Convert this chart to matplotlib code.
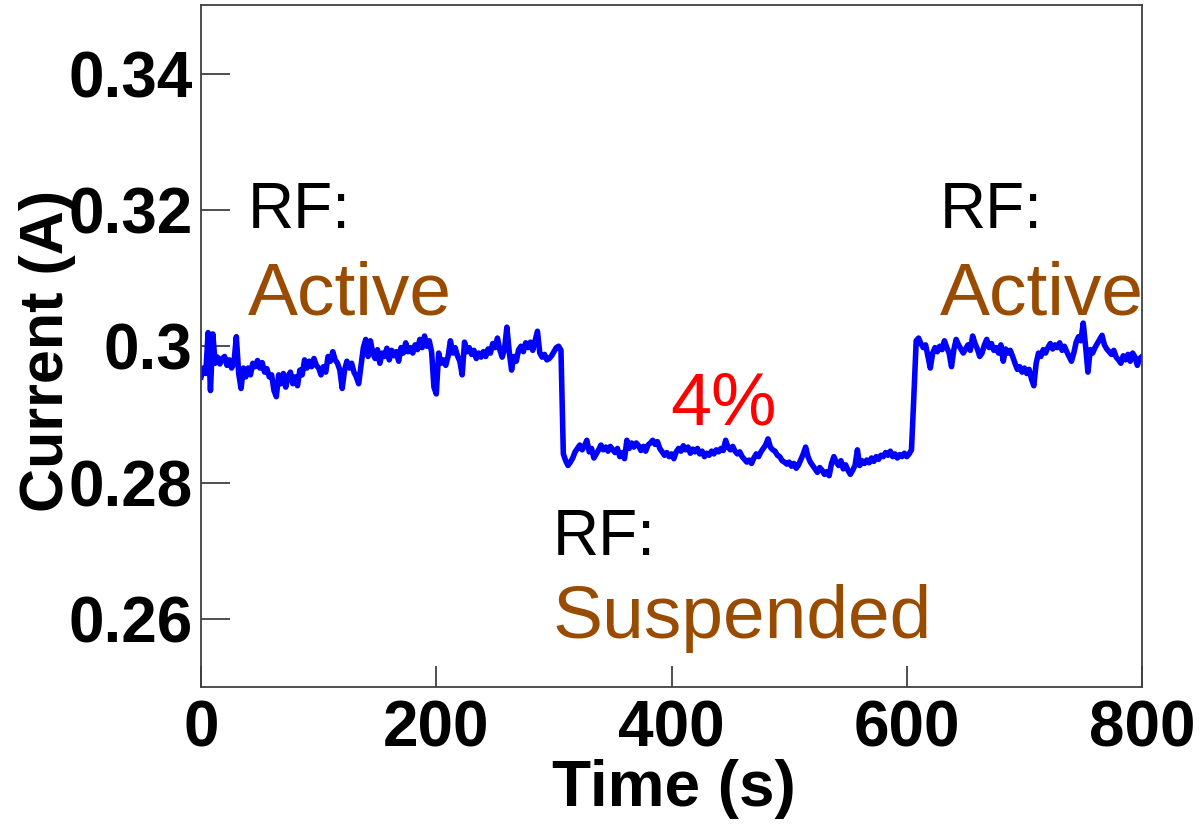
import matplotlib.pyplot as plt
import numpy as np

# Current trace (A), one value every 2 s from 0 to 800 s
time_step = 2
current = [
    0.2955, 0.2968, 0.2960, 0.3020, 0.2935, 0.3018, 0.2975, 0.2984, 0.2974, 0.2982,
    0.2985, 0.2972, 0.2980, 0.2968, 0.2976, 0.3014, 0.2960, 0.2938, 0.2968, 0.2955,
    0.2968, 0.2958, 0.2975, 0.2970, 0.2979, 0.2968, 0.2976, 0.2962, 0.2967, 0.2955,
    0.2958, 0.2935, 0.2926, 0.2958, 0.2945, 0.2960, 0.2940, 0.2956, 0.2962, 0.2945,
    0.2955, 0.2942, 0.2965, 0.2958, 0.2980, 0.2968, 0.2978, 0.2970, 0.2982, 0.2972,
    0.2968, 0.2958, 0.2970, 0.2962, 0.2985, 0.2978, 0.2992, 0.2980, 0.2975, 0.2965,
    0.2938, 0.2965, 0.2978, 0.2968, 0.2975, 0.2962, 0.2955, 0.2945, 0.2972, 0.2998,
    0.3010, 0.2985, 0.3008, 0.2990, 0.2982, 0.2995, 0.2975, 0.2990, 0.2985, 0.2997,
    0.2980, 0.2994, 0.2986, 0.2992, 0.2978, 0.2998, 0.2990, 0.3005, 0.2992, 0.2998,
    0.2990, 0.3002, 0.2995, 0.3010, 0.2998, 0.3015, 0.3000, 0.3008, 0.2992, 0.2940,
    0.2930, 0.2990, 0.2975, 0.2980, 0.2972, 0.2985, 0.3008, 0.2990, 0.2998, 0.2986,
    0.2978, 0.2958, 0.3006, 0.2992, 0.2998, 0.2988, 0.2994, 0.2982, 0.2990, 0.2984,
    0.2992, 0.2985, 0.2996, 0.2990, 0.3004, 0.2998, 0.3012, 0.2995, 0.2984, 0.2996,
    0.3028, 0.2992, 0.2965, 0.2985, 0.2978, 0.2995, 0.3000, 0.2992, 0.3005, 0.2998,
    0.3006, 0.2994, 0.3008, 0.3022, 0.2990, 0.2984, 0.2988, 0.2980, 0.2982, 0.2986,
    0.2992, 0.2998, 0.3000, 0.2994, 0.2842, 0.2832, 0.2825, 0.2830, 0.2836, 0.2845,
    0.2850, 0.2855, 0.2848, 0.2854, 0.2862, 0.2845, 0.2850, 0.2836, 0.2842, 0.2848,
    0.2855, 0.2848, 0.2852, 0.2846, 0.2853, 0.2848, 0.2844, 0.2850, 0.2838, 0.2844,
    0.2835, 0.2862, 0.2850, 0.2858, 0.2852, 0.2858, 0.2854, 0.2847, 0.2853, 0.2846,
    0.2855, 0.2858, 0.2862, 0.2856, 0.2860, 0.2850, 0.2845, 0.2840, 0.2844, 0.2838,
    0.2842, 0.2835, 0.2845, 0.2850, 0.2846, 0.2854, 0.2848, 0.2852, 0.2843, 0.2849,
    0.2845, 0.2850, 0.2842, 0.2846, 0.2838, 0.2843, 0.2840, 0.2846, 0.2842, 0.2848,
    0.2845, 0.2850, 0.2847, 0.2862, 0.2852, 0.2848, 0.2853, 0.2846, 0.2842, 0.2845,
    0.2838, 0.2834, 0.2830, 0.2833, 0.2828, 0.2836, 0.2842, 0.2838, 0.2845, 0.2850,
    0.2855, 0.2864, 0.2852, 0.2848, 0.2846, 0.2840, 0.2838, 0.2832, 0.2830, 0.2827,
    0.2830, 0.2824, 0.2828, 0.2821, 0.2826, 0.2834, 0.2842, 0.2852, 0.2838, 0.2830,
    0.2825, 0.2820, 0.2815, 0.2822, 0.2818, 0.2812, 0.2816, 0.2810, 0.2828, 0.2838,
    0.2830, 0.2825, 0.2832, 0.2820, 0.2826, 0.2818, 0.2812, 0.2818, 0.2825, 0.2848,
    0.2825, 0.2832, 0.2828, 0.2833, 0.2829, 0.2836, 0.2831, 0.2838, 0.2834, 0.2840,
    0.2838, 0.2844, 0.2840, 0.2846, 0.2838, 0.2842, 0.2836, 0.2841, 0.2838, 0.2843,
    0.2838, 0.2842, 0.2848, 0.2926, 0.3008, 0.3012, 0.3004, 0.2998, 0.3002, 0.2985,
    0.2968, 0.2990, 0.2998, 0.2992, 0.3000, 0.2995, 0.3008, 0.2998, 0.2990, 0.2970,
    0.2995, 0.3010, 0.3002, 0.2996, 0.2990, 0.2996, 0.3002, 0.2994, 0.3015, 0.3004,
    0.2996, 0.2985, 0.2990, 0.3002, 0.3010, 0.2998, 0.3004, 0.2994, 0.2998, 0.2990,
    0.3002, 0.2978, 0.2996, 0.2990, 0.2994, 0.2985, 0.2975, 0.2966, 0.2970, 0.2962,
    0.2968, 0.2960, 0.2966, 0.2952, 0.2942, 0.2975, 0.2990, 0.2985, 0.2995, 0.2990,
    0.2998, 0.3004, 0.2996, 0.3002, 0.2998, 0.3005, 0.2994, 0.3000, 0.2992, 0.2985,
    0.2978, 0.2990, 0.3006, 0.3014, 0.3008, 0.3034, 0.3000, 0.2962, 0.2995, 0.2990,
    0.2998, 0.3004, 0.3010, 0.3016, 0.3002, 0.2996, 0.2992, 0.2988, 0.2994, 0.2984,
    0.2980, 0.2975, 0.2986, 0.2980, 0.2988, 0.2978, 0.2990, 0.2984, 0.2972, 0.2982,
    0.2985,
]
time = np.arange(len(current)) * time_step

x_ticks = [0, 200, 400, 600, 800]
y_ticks = [0.26, 0.28, 0.30, 0.32, 0.34]
y_tick_labels = ["0.26", "0.28", "0.3", "0.32", "0.34"]

plt.rcParams["font.family"] = ["Liberation Sans", "DejaVu Sans"]

fig = plt.figure(figsize=(12.01, 8.33), dpi=100)
ax = fig.add_axes([0.1674, 0.1753, 0.7835, 0.8181])

ax.plot(time, current, color="#0000ff", linewidth=4)

ax.set_xlim(0, 800)
ax.set_ylim(0.25, 0.35)
ax.set_xticks(x_ticks)
ax.set_xticklabels([str(v) for v in x_ticks])
ax.set_yticks(y_ticks)
ax.set_yticklabels(y_tick_labels)

for spine in ax.spines.values():
    spine.set_color("#404040")
    spine.set_linewidth(1.3)
ax.tick_params(axis="both", direction="in", colors="#404040", width=1.3,
               labelcolor="black", labelsize=46)
ax.tick_params(axis="x", length=15, pad=9)
ax.tick_params(axis="y", length=21, pad=6)
for lbl in ax.get_xticklabels() + ax.get_yticklabels():
    lbl.set_fontweight("bold")

ax.set_xlabel("Time (s)", fontsize=46, fontweight="bold")
ax.set_ylabel("Current (A)", fontsize=44, fontweight="bold")
ax.xaxis.set_label_coords(0.502, -0.105)
ax.yaxis.set_label_coords(-0.133, 0.493)

# Annotations
brown = "#994c00"
ax.text(40, 0.3173, "RF:", fontsize=46, color="black")
ax.text(40, 0.3046, "Active", fontsize=54, color=brown)
ax.text(628, 0.3173, "RF:", fontsize=46, color="black")
ax.text(628, 0.3046, "Active", fontsize=54, color=brown)
ax.text(399, 0.2885, "4%", fontsize=53, color="red")
ax.text(299, 0.2694, "RF:", fontsize=46, color="black")
ax.text(299, 0.2572, "Suspended", fontsize=54, color=brown)

fig.savefig("out.png", dpi=100)
